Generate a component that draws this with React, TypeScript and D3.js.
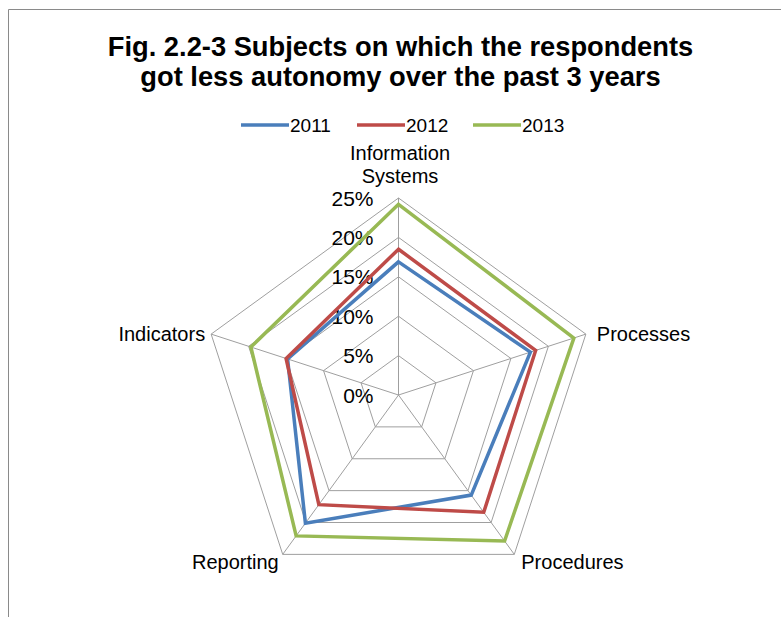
import React from "react";
import * as d3 from "d3";

// Subjects on the radar axes (clockwise from top)
const subjects = ["Information Systems", "Processes", "Procedures", "Reporting", "Indicators"];
const years = ["2011", "2012", "2013"];
// Share of respondents (%) per subject
const values2011 = [16.9, 17.6, 15.7, 20.1, 14.8];
const values2012 = [18.5, 18.3, 18.4, 17.2, 15.0];
const values2013 = [24.2, 23.4, 22.9, 22.1, 19.7];
const tickValues = [0, 5, 10, 15, 20, 25];
const colors = ["#4A7EBB", "#BE4B48", "#98B954"];

const W = 781;
const H = 617;
const cx = 398.5;
const cy = 395;
const R = 197;
const font = "'Liberation Sans', Arial, sans-serif";

export default function App() {
  const series = [values2011, values2012, values2013];
  const r = d3.scaleLinear().domain([0, 25]).range([0, R]);
  const angle = d3
    .scaleLinear()
    .domain([0, subjects.length])
    .range([0, 2 * Math.PI]);

  const radial = d3
    .lineRadial<number>()
    .angle((_, i) => angle(i))
    .radius((d) => r(d))
    .curve(d3.curveLinearClosed);

  const pt = (i: number, v: number) => {
    const a = angle(i) - Math.PI / 2;
    return [cx + r(v) * Math.cos(a), cy + r(v) * Math.sin(a)];
  };

  const ringPath = (v: number) =>
    radial(subjects.map(() => v)) as string;

  // label placements around the outer vertices
  const outer = subjects.map((_, i) => pt(i, 25));

  return (
    <svg
      width={W}
      height={H}
      style={{ position: "absolute", left: 0, top: 0, background: "#fff" }}
      fontFamily={font}
    >
      <rect x={0} y={0} width={W} height={H} fill="#fff" />
      {/* chart area frame */}
      <path d={`M8.5,${H} V9.5 H${W}`} fill="none" stroke="#8a8a8a" strokeWidth={1} />

      {/* title */}
      <text x={400.5} y={56} textAnchor="middle" fontSize={27.3} fontWeight="bold" fill="#000">
        Fig. 2.2-3 Subjects on which the respondents
      </text>
      <text x={400.5} y={86} textAnchor="middle" fontSize={27.3} fontWeight="bold" fill="#000">
        got less autonomy over the past 3 years
      </text>

      {/* legend */}
      {years.map((y, k) => {
        const x0 = 241 + k * 116;
        return (
          <g key={y}>
            <line x1={x0} x2={x0 + 48} y1={125} y2={125} stroke={colors[k]} strokeWidth={3.5} />
            <text x={x0 + 49} y={132} fontSize={19} fill="#000">
              {y}
            </text>
          </g>
        );
      })}

      {/* grid rings */}
      <g transform={`translate(${cx},${cy})`}>
        {tickValues.slice(1).map((t) => (
          <path key={t} d={ringPath(t)} fill="none" stroke="#9f9f9f" strokeWidth={1} />
        ))}
      </g>
      {/* spokes */}
      {outer.map(([x, y], i) => (
        <line key={i} x1={cx} y1={cy} x2={x} y2={y} stroke="#9f9f9f" strokeWidth={1} />
      ))}

      {/* radial tick labels */}
      {tickValues.map((t) => (
        <text
          key={t}
          x={cx - 25}
          y={cy - r(t)}
          dy="0.36em"
          textAnchor="end"
          fontSize={21}
          fill="#000"
        >
          {t}%
        </text>
      ))}

      {/* category labels */}
      <text x={outer[0][0] + 1.5} y={160} textAnchor="middle" fontSize={20} fill="#000">
        Information
      </text>
      <text x={outer[0][0] + 1.5} y={183} textAnchor="middle" fontSize={20} fill="#000">
        Systems
      </text>
      <text x={outer[1][0] + 11} y={outer[1][1]} dy="0.36em" fontSize={20} fill="#000">
        {subjects[1]}
      </text>
      <text x={outer[2][0] + 7} y={outer[2][1] + 7} dy="0.36em" fontSize={20} fill="#000">
        {subjects[2]}
      </text>
      <text x={outer[3][0] - 4} y={outer[3][1] + 7} dy="0.36em" textAnchor="end" fontSize={20} fill="#000">
        {subjects[3]}
      </text>
      <text x={outer[4][0] - 6} y={outer[4][1]} dy="0.36em" textAnchor="end" fontSize={20} fill="#000">
        {subjects[4]}
      </text>

      {/* series */}
      <g transform={`translate(${cx},${cy})`}>
        {series.map((s, k) => (
          <path
            key={years[k]}
            d={radial(s) as string}
            fill="none"
            stroke={colors[k]}
            strokeWidth={3.5}
            strokeLinejoin="miter"
          />
        ))}
      </g>
    </svg>
  );
}
